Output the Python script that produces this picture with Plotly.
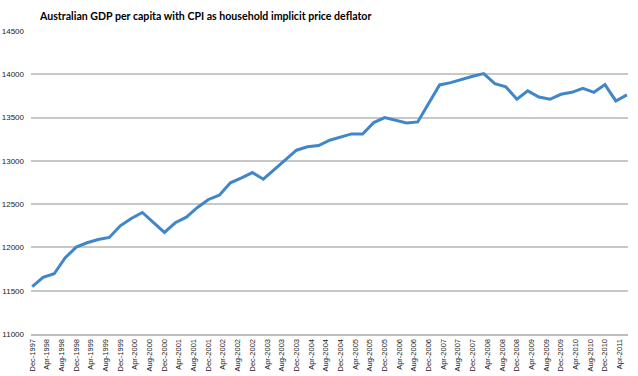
import pandas as pd
import plotly.graph_objects as go

# Quarterly observations, Dec-1997 .. Jun-2011
quarter_start = "1997-12-01"
gdp_per_capita = [
    11546, 11654, 11696, 11881, 12004, 12054, 12092, 12115, 12250, 12335,
    12404, 12285, 12173, 12285, 12350, 12462, 12554, 12604, 12746, 12804,
    12865, 12788, 12900, 13015, 13123, 13162, 13177, 13238, 13277, 13311,
    13311, 13442, 13500, 13469, 13438, 13450, 13661, 13877, 13904, 13942,
    13977, 14008, 13892, 13854, 13711, 13808, 13738, 13711, 13769, 13792,
    13838, 13792, 13881, 13692, 13762,
]
quarters = list(pd.date_range(quarter_start, periods=len(gdp_per_capita), freq="3MS"))

# Axis ticks: every 4 months, Dec-1997 .. Apr-2011
tick_dates = list(pd.date_range("1997-12-01", "2011-04-01", freq="4MS"))
tick_labels = [d.strftime("%b-%Y") for d in tick_dates]
y_ticks = [11000, 11500, 12000, 12500, 13000, 13500, 14000, 14500]

title_text = "Australian GDP per capita with CPI as household implicit price deflator"

fig = go.Figure()
fig.add_trace(go.Scatter(
    x=quarters, y=gdp_per_capita, mode="lines",
    line=dict(color="#3F87C9", width=3),
    hoverinfo="x+y", showlegend=False,
))

fig.update_layout(
    width=638, height=376,
    margin=dict(l=31, r=10, t=31, b=42),
    paper_bgcolor="white", plot_bgcolor="white",
    title=dict(text="<b>" + title_text + "</b>", x=40/638, xanchor="left",
               y=1 - 16/376, yanchor="middle",
               font=dict(family="Lato, sans-serif", size=10.6, color="black")),
    font=dict(family="Liberation Sans, Arial, sans-serif", size=8, color="#222"),
)
fig.update_xaxes(
    type="date", range=["1997-11-21", "2011-06-10"], automargin=False,
    tickmode="array", tickvals=tick_dates, ticktext=tick_labels,
    tickangle=-90, tickfont=dict(size=7.5),
    showgrid=False, showline=True, linecolor="#BEBEBE", linewidth=2,
    ticks="", zeroline=False,
)
fig.update_yaxes(
    range=[11000, 14500], automargin=False, tickmode="array", tickvals=y_ticks,
    ticktext=[str(v) for v in y_ticks], tickfont=dict(size=8),
    showgrid=True, gridcolor="#C8C8C8", gridwidth=2,
    showline=False, zeroline=False, ticks="", ticklabelstandoff=6,
)

fig.write_html(
    "out.html",
    config={"displayModeBar": False},
    post_script="document.body.style.margin='0';document.body.style.overflow='hidden';",
)
